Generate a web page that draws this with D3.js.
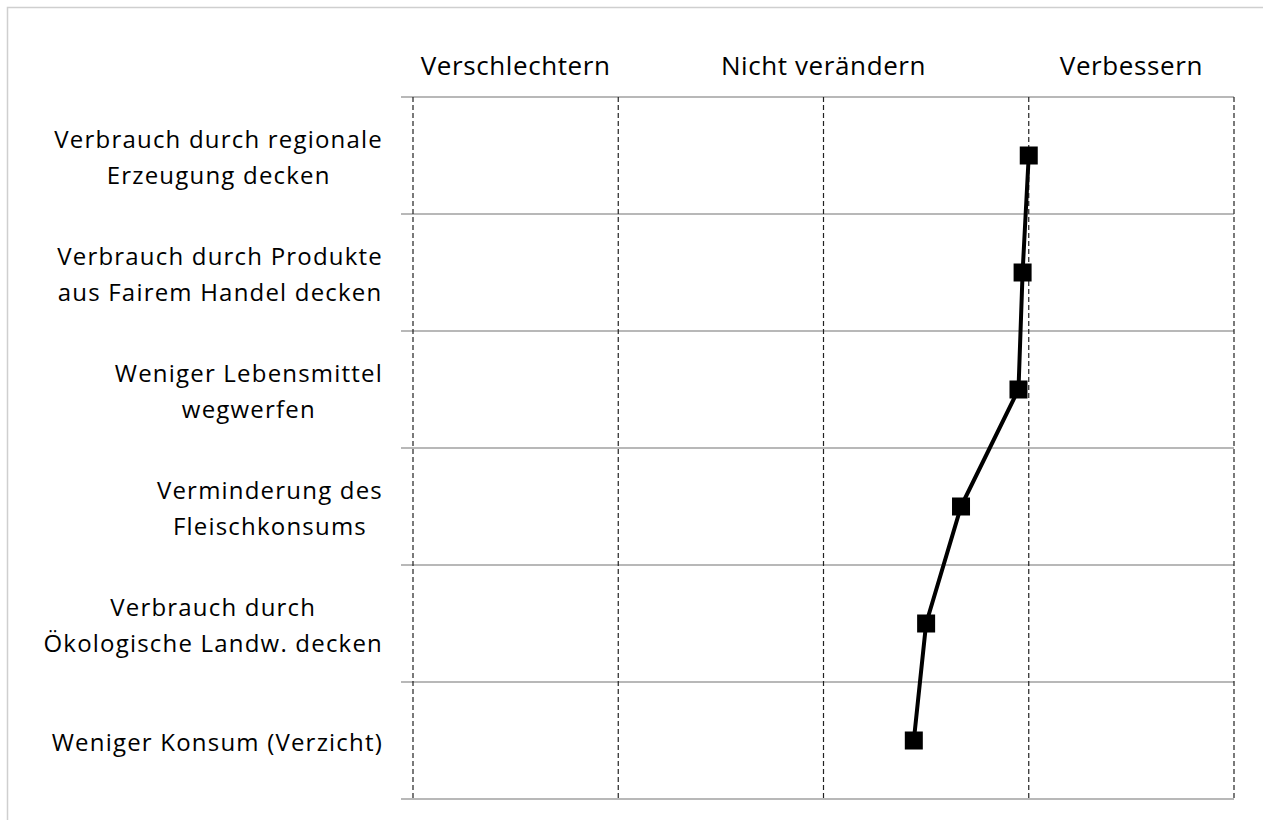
<!DOCTYPE html>
<html>
<head>
<meta charset="utf-8">
<script src="https://cdn.jsdelivr.net/npm/d3@7"></script>
<style>
	body { margin: 0; background: #fff; }
	svg text { font-family: "Open Sans", Lato, sans-serif; fill: #000; }
</style>
</head>
<body>
<svg width="1263" height="820"></svg>
<script>
// rows, top to bottom
var categories = [
	"Verbrauch durch regionale\nErzeugung decken",
	"Verbrauch durch Produkte\naus Fairem Handel decken",
	"Weniger Lebensmittel\nwegwerfen",
	"Verminderung des\nFleischkonsums",
	"Verbrauch durch\nÖkologische Landw. decken",
	"Weniger Konsum (Verzicht)"
];
// mean rating, 1 = verschlechtern ... 5 = verbessern
var values = [4.0, 3.97, 3.95, 3.67, 3.5, 3.44];
var headerLabels = ["Verschlechtern", "Nicht verändern", "Verbessern"];
var headerAt = [1.5, 3, 4.5];
var gridTicks = [1, 2, 3, 4, 5];

var svg = d3.select("svg");

// light frame on top and left
svg.append("path")
	.attr("d", "M7.5,820V7.5H1263")
	.attr("fill", "none")
	.attr("stroke", "#cfcfcf")
	.attr("stroke-width", 1.5);

var x = d3.scaleLinear().domain([1, 5]).range([413, 1234]);
var y = d3.scaleBand().domain(categories).range([97, 799]).padding(0);

// horizontal row separators (with tick stubs on the left)
var rowEdges = categories.map(function(c) { return y(c); }).concat([y.range()[1]]);
svg.append("g").selectAll("line")
	.data(rowEdges)
	.enter().append("line")
		.attr("x1", 401)
		.attr("x2", x(5))
		.attr("y1", function(d) { return d; })
		.attr("y2", function(d) { return d; })
		.attr("stroke", "#b8b8b8")
		.attr("stroke-width", 2);

// dashed vertical grid
svg.append("g").selectAll("line")
	.data(gridTicks)
	.enter().append("line")
		.attr("x1", function(d) { return x(d); })
		.attr("x2", function(d) { return x(d); })
		.attr("y1", y.range()[0])
		.attr("y2", y.range()[1])
		.attr("stroke", "#222")
		.attr("stroke-width", 1.2)
		.attr("stroke-dasharray", "5,3");

// header labels
svg.append("g").selectAll("text")
	.data(headerLabels)
	.enter().append("text")
		.attr("x", function(d, i) { return x(headerAt[i]); })
		.attr("y", 75)
		.attr("text-anchor", "middle")
		.attr("font-size", 26)
		.attr("letter-spacing", 0.6)
		.text(function(d) { return d; });

// row labels: block right aligned, lines centred within the block
var labelRight = 383;
var labelG = svg.append("g");
categories.forEach(function(c) {
	var lines = c.split("\n");
	var t = labelG.append("text")
		.attr("font-size", 24)
		.attr("letter-spacing", 1.2)
		.attr("text-anchor", "middle");
	var cy = y(c) + y.bandwidth() / 2;
	var first = lines.length > 1 ? cy - 8 : cy + 10;
	lines.forEach(function(l, i) {
		t.append("tspan").attr("y", first + i * 36).text(l);
	});
	var w = 0;
	t.selectAll("tspan").each(function() { w = Math.max(w, this.getComputedTextLength()); });
	t.selectAll("tspan").attr("x", labelRight - w / 2);
});

// series line + square markers
var pts = categories.map(function(c, i) { return { c: c, v: values[i] }; });
svg.append("path")
	.datum(pts)
	.attr("fill", "none")
	.attr("stroke", "#000")
	.attr("stroke-width", 4)
	.attr("stroke-linejoin", "round")
	.attr("d", d3.line()
		.x(function(d) { return x(d.v); })
		.y(function(d) { return y(d.c) + y.bandwidth() / 2; }));

svg.append("g").selectAll("rect")
	.data(pts)
	.enter().append("rect")
		.attr("x", function(d) { return x(d.v) - 9; })
		.attr("y", function(d) { return y(d.c) + y.bandwidth() / 2 - 9; })
		.attr("width", 18)
		.attr("height", 18)
		.attr("fill", "#000");
</script>
</body>
</html>
